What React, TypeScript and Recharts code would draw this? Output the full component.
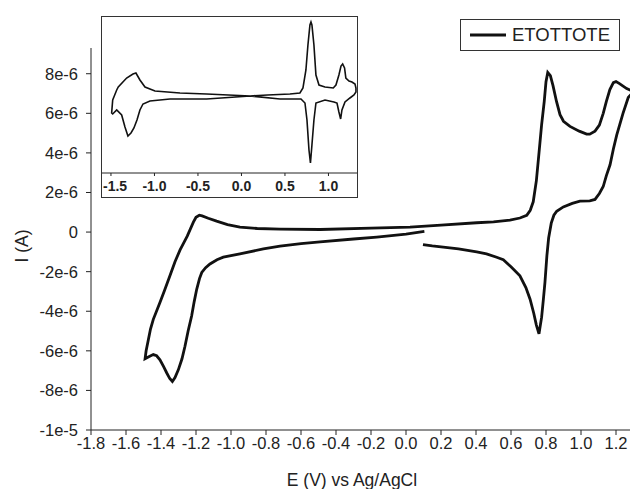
import { LineChart, Line, XAxis, YAxis } from "recharts";

// main CV scan: potential (V) and current (µA), in scan order
const mainE = [
  0.097, 0.15, 0.213, 0.3, 0.404, 0.46, 0.518, 0.556, 0.6, 0.651, 0.685, 0.709,
  0.73, 0.745, 0.76, 0.775, 0.785, 0.794, 0.805, 0.815, 0.83, 0.845, 0.861,
  0.899, 0.95, 0.994, 1.05, 1.08, 1.105, 1.127, 1.145, 1.166, 1.185, 1.204,
  1.24, 1.27, 1.3, 1.261, 1.22, 1.2, 1.185, 1.165, 1.145, 1.127, 1.105, 1.08,
  1.05, 1.032, 0.99, 0.937, 0.9, 0.88, 0.86, 0.84, 0.825, 0.81, 0.8, 0.79,
  0.775, 0.76, 0.745, 0.727, 0.71, 0.69, 0.651, 0.594, 0.5, 0.404, 0.2, 0.023,
  -0.2, -0.49, -0.72, -0.85, -0.949, -1.02, -1.082, -1.13, -1.165, -1.181,
  -1.2, -1.215, -1.25, -1.291, -1.32, -1.349, -1.38, -1.406, -1.444, -1.46,
  -1.472, -1.485, -1.491, -1.47, -1.444, -1.425, -1.406, -1.385, -1.367, -1.35,
  -1.335, -1.32, -1.301, -1.28, -1.263, -1.245, -1.225, -1.21, -1.196, -1.18,
  -1.167, -1.145, -1.12, -1.08, -1.044, -0.949, -0.815, -0.72, -0.6, -0.491,
  -0.3, -0.167, 0.0, 0.105,
];
const mainI = [
  -0.63, -0.7, -0.76, -0.85, -1.0, -1.1, -1.27, -1.4, -1.75, -2.21, -2.8, -3.39,
  -4.1, -4.7, -5.14, -4.3, -3.4, -2.54, -1.2, -0.3, 0.45, 0.85, 1.05,
  1.27, 1.45, 1.56, 1.58, 1.65, 1.95, 2.3, 2.85, 3.4, 4.2, 4.9,
  6.0, 6.8, 7.1, 7.25, 7.5, 7.6, 7.55, 7.2, 6.6, 6.0, 5.4, 5.1,
  4.95, 4.95, 5.1, 5.34, 5.6, 5.93, 6.6, 7.4, 7.9, 8.06, 7.6, 6.6,
  5.43, 4.0, 2.6, 1.53, 1.1, 0.85, 0.71, 0.6, 0.52, 0.47, 0.35, 0.25,
  0.2, 0.13, 0.15, 0.18, 0.25, 0.38, 0.55, 0.7, 0.82, 0.85,
  0.75, 0.5, -0.2, -0.9, -1.5, -2.21, -2.95, -3.56, -4.41, -4.9,
  -5.43, -6.0, -6.4, -6.3, -6.19, -6.25, -6.45, -6.8, -7.12, -7.4,
  -7.55, -7.35, -6.96, -6.4, -5.77, -5.0, -4.24, -3.5, -2.89, -2.35,
  -2.04, -1.8, -1.61, -1.4, -1.27, -1.1, -0.85, -0.71, -0.58, -0.5,
  -0.35, -0.25, -0.1, 0.03,
];

// inset scan: potential (V) and current (arbitrary units, no axis)
const insetE = [
  0.1, 0.3, 0.557, 0.672, 0.707, 0.741, 0.764, 0.787, 0.799, 0.81, 0.833,
  0.856, 0.891, 0.96, 1.055, 1.086, 1.12, 1.144, 1.163, 1.185, 1.2, 1.236,
  1.27, 1.305, 1.316, 1.316, 1.293, 1.247, 1.19, 1.155, 1.14, 1.12, 1.098,
  1.063, 0.96, 0.856, 0.833, 0.81, 0.793, 0.776, 0.753, 0.73, 0.684, 0.443,
  0.1, -0.4, -0.822, -1.052, -1.132, -1.167, -1.201, -1.236, -1.27, -1.305,
  -1.339, -1.377, -1.434, -1.48, -1.492, -1.48, -1.434, -1.416, -1.32,
  -1.247, -1.213, -1.167, -1.109, -0.994, -0.707, -0.4, 0.1,
];
const insetI = [
  78, 79, 80, 81, 86, 104, 129, 149, 152, 149, 129,
  99, 89, 87, 86, 89, 99, 108, 110, 106, 96, 93,
  92, 90, 86, 82, 79, 76, 72, 64, 55, 62, 71,
  72, 74, 71, 54, 29, 11, 24, 54, 71, 75, 75,
  78, 75, 75, 73, 70, 64, 54, 46, 41, 38,
  47, 59, 64, 60, 61, 74, 84, 87, 96,
  100, 101, 94, 87, 83, 81, 80, 78,
];

const xTicks = [-1.8, -1.6, -1.4, -1.2, -1.0, -0.8, -0.6, -0.4, -0.2, 0.0, 0.2, 0.4, 0.6, 0.8, 1.0, 1.2];
const yTicks = [-10, -8, -6, -4, -2, 0, 2, 4, 6, 8];
const yTickLabels = ["-1e-5", "-8e-6", "-6e-6", "-4e-6", "-2e-6", "0", "2e-6", "4e-6", "6e-6", "8e-6"];
const insetTicks = [-1.5, -1.0, -0.5, 0.0, 0.5, 1.0];
const seriesName = "ETOTTOTE";

const mainData = mainE.map((e, k) => ({ e, i: mainI[k] }));
const insetData = insetE.map((e, k) => ({ e, i: insetI[k] }));

const font = "'Liberation Sans', Arial, sans-serif";
const ink = "#111";

// inset tick: keep the first label inside the box, like the original
const InsetTick = (props: any) => {
  const { x, y, payload, index } = props;
  const first = index === 0;
  return (
    <text
      x={first ? Math.max(x - 12, 1) : x}
      y={y}
      dy="0.71em"
      textAnchor={first ? "start" : "middle"}
      fontSize={14}
      fontWeight="bold"
      fontFamily={font}
      fill="#222"
    >
      {Number(payload.value).toFixed(1)}
    </text>
  );
};

const App = () => {
  return (
    <div
      style={{
        position: "absolute",
        left: 0,
        top: 0,
        width: 630,
        height: 489,
        overflow: "hidden",
        background: "#fff",
        fontFamily: font,
      }}
    >
      <LineChart
        width={640}
        height={489}
        data={mainData}
        margin={{ top: 48, right: 6.5, bottom: 0, left: 0 }}
      >
        <XAxis
          type="number"
          dataKey="e"
          domain={[-1.8, 1.3]}
          ticks={xTicks}
          interval={0}
          tickFormatter={(v: number) => v.toFixed(1)}
          height={59}
          tickSize={5}
          stroke="#222"
          tick={{ fill: "#222", fontSize: 16.5, fontFamily: font }}
          label={{
            content: () => (
              <text x={352} y={486} textAnchor="middle" fontSize={17.5} fontFamily={font} fill="#222">
                E (V) vs Ag/AgCl
              </text>
            ),
          }}
        />
        <YAxis
          type="number"
          domain={[-10, 9.3]}
          ticks={yTicks}
          interval={0}
          tickFormatter={(v: number) => yTickLabels[yTicks.indexOf(v)]}
          width={91}
          tickSize={5}
          tickMargin={8}
          stroke="#222"
          tick={{ fill: "#222", fontSize: 16.5, fontFamily: font }}
          label={{
            content: () => (
              <text
                x={28}
                y={246}
                transform="rotate(-90 28 246)"
                textAnchor="middle"
                fontSize={17.5}
                fontFamily={font}
                fill="#222"
              >
                I (A)
              </text>
            ),
          }}
        />
        <Line
          type="linear"
          dataKey="i"
          name={seriesName}
          stroke={ink}
          strokeWidth={2.8}
          dot={false}
          isAnimationActive={false}
        />
      </LineChart>

      {/* legend */}
      <div
        style={{
          position: "absolute",
          left: 460,
          top: 19,
          width: 160,
          height: 32,
          boxSizing: "border-box",
          border: "1px solid #333",
          background: "#fff",
          display: "flex",
          alignItems: "center",
        }}
      >
        <svg width={50} height={10} style={{ marginLeft: 9 }}>
          <line x1={0} y1={5} x2={36} y2={5} stroke={ink} strokeWidth={3} />
        </svg>
        <span style={{ fontSize: 18.5, color: "#222", marginLeft: -8 }}>{seriesName}</span>
      </div>

      {/* inset */}
      <div
        style={{
          position: "absolute",
          left: 101,
          top: 16,
          width: 257,
          height: 182,
          boxSizing: "border-box",
          border: "1px solid #333",
          background: "#fff",
        }}
      >
        <LineChart width={255} height={180} data={insetData} margin={{ top: 0, right: 0, bottom: 0, left: 0 }}>
          <XAxis
            type="number"
            dataKey="e"
            domain={[-1.603, 1.328]}
            ticks={insetTicks}
            interval={0}
            height={24}
            tickSize={3}
            tickMargin={5}
            stroke="#222"
            tick={<InsetTick />}
          />
          <YAxis type="number" domain={[1, 157]} hide />
          <Line
            type="linear"
            dataKey="i"
            stroke={ink}
            strokeWidth={1.6}
            dot={false}
            isAnimationActive={false}
          />
        </LineChart>
      </div>
    </div>
  );
};

export default App;
